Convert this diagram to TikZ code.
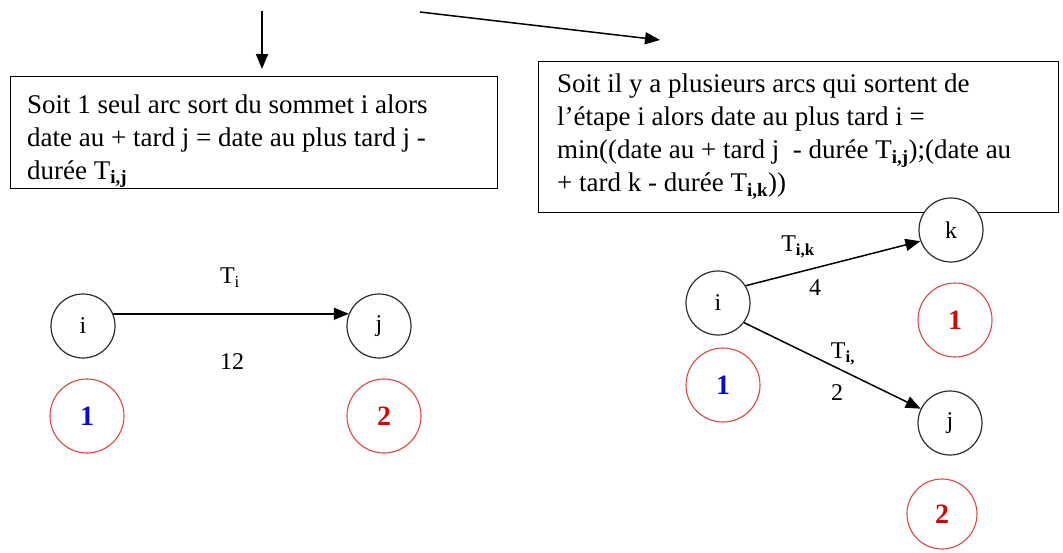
\documentclass[tikz,border=0pt]{standalone}
\usepackage{fontspec}
\setmainfont{Liberation Serif}
\usetikzlibrary{arrows.meta}
\definecolor{digblue}{RGB}{10,10,200}
\definecolor{digred}{RGB}{205,10,10}
\definecolor{ringred}{RGB}{222,70,70}
\definecolor{ringblack}{RGB}{45,45,45}
\tikzset{
  textbox/.style={draw=black, line width=1.4pt, anchor=north west, inner sep=0pt, fill=white},
  boxtext/.style={anchor=north west, inner sep=0pt, align=left, font=\fontsize{27}{33}\selectfont},
  vertex/.style={circle, draw=ringblack, line width=1.2pt, minimum size=64pt, inner sep=0pt, fill=white, font=\fontsize{24}{26}\selectfont},
  ring/.style={circle, draw=ringred, line width=1.1pt, minimum size=74pt, inner sep=0pt, font=\bfseries\fontsize{28}{30}\selectfont},
  arc/.style={line width=1.5pt, -{Triangle[length=15pt,width=12pt]}},
  lbl/.style={inner sep=0pt, font=\fontsize{24}{26}\selectfont},
}
\begin{document}
\begin{tikzpicture}[x=1pt, y=-1pt]
\path[use as bounding box, fill=white] (0,0) rectangle (1063,552);

% top arrows
\coordinate (a1s) at (262,11);
\coordinate (a1e) at (262,69);
\coordinate (a2s) at (420,12);
\coordinate (a2e) at (660,40);
\draw[arc] (a1s) -- (a1e);
\draw[arc] (a2s) -- (a2e);

% text boxes
\node[textbox, minimum width=487pt, minimum height=112pt] (boxL) at (10,76) {};
\node[boxtext] (txtL) at (27,93) {\rule{0pt}{20pt}Soit 1 seul arc sort du sommet i alors\\
date au + tard j = date au plus tard j -\\
durée T\textsubscript{\textbf{i,j}}};

\node[textbox, minimum width=520pt, minimum height=151pt] (boxR) at (538,61) {};
\node[boxtext] (txtR) at (557,72.5) {\rule{0pt}{20pt}Soit il y a plusieurs arcs qui sortent de\\
l'étape i alors date au plus tard i =\\
min((date au + tard j~ - durée T\textsubscript{\textbf{i,j}});(date au\\
+ tard k - durée T\textsubscript{\textbf{i,k}}))};

% left graph
\node[vertex] (iL) at (83,326) {i};
\node[vertex] (jL) at (379,326) {j};
\draw[arc] (iL.22) -- (jL.158);
\node[lbl] (tL) at (230,278) {T\textsubscript{i}};
\node[lbl] (wL) at (232,362) {12};
\node[ring, text=digblue] (rL1) at (87,416) {1};
\node[ring, text=digred] (rL2) at (384,416) {2};

% right graph
\node[vertex] (iR) at (718,303) {i};
\node[vertex] (kR) at (951,230) {k};
\node[vertex] (jR) at (950,423) {j};
\draw[arc] (iR.32) -- (kR.200);
\draw[arc] (iR.323) -- (jR.154);
\node[lbl] (tK) at (798,247) {T\textsubscript{\textbf{i,k}}};
\node[lbl] (wK) at (815,288) {4};
\node[lbl] (tJ) at (843,354) {T\textsubscript{\textbf{i,}}};
\node[lbl] (wJ) at (837,393) {2};
\node[ring, text=digblue] (rR1) at (723,385) {1};
\node[ring, text=digred] (rK1) at (955,320) {1};
\node[ring, text=digred, minimum size=70pt] (rJ2) at (942,514) {2};
\end{tikzpicture}
\end{document}
